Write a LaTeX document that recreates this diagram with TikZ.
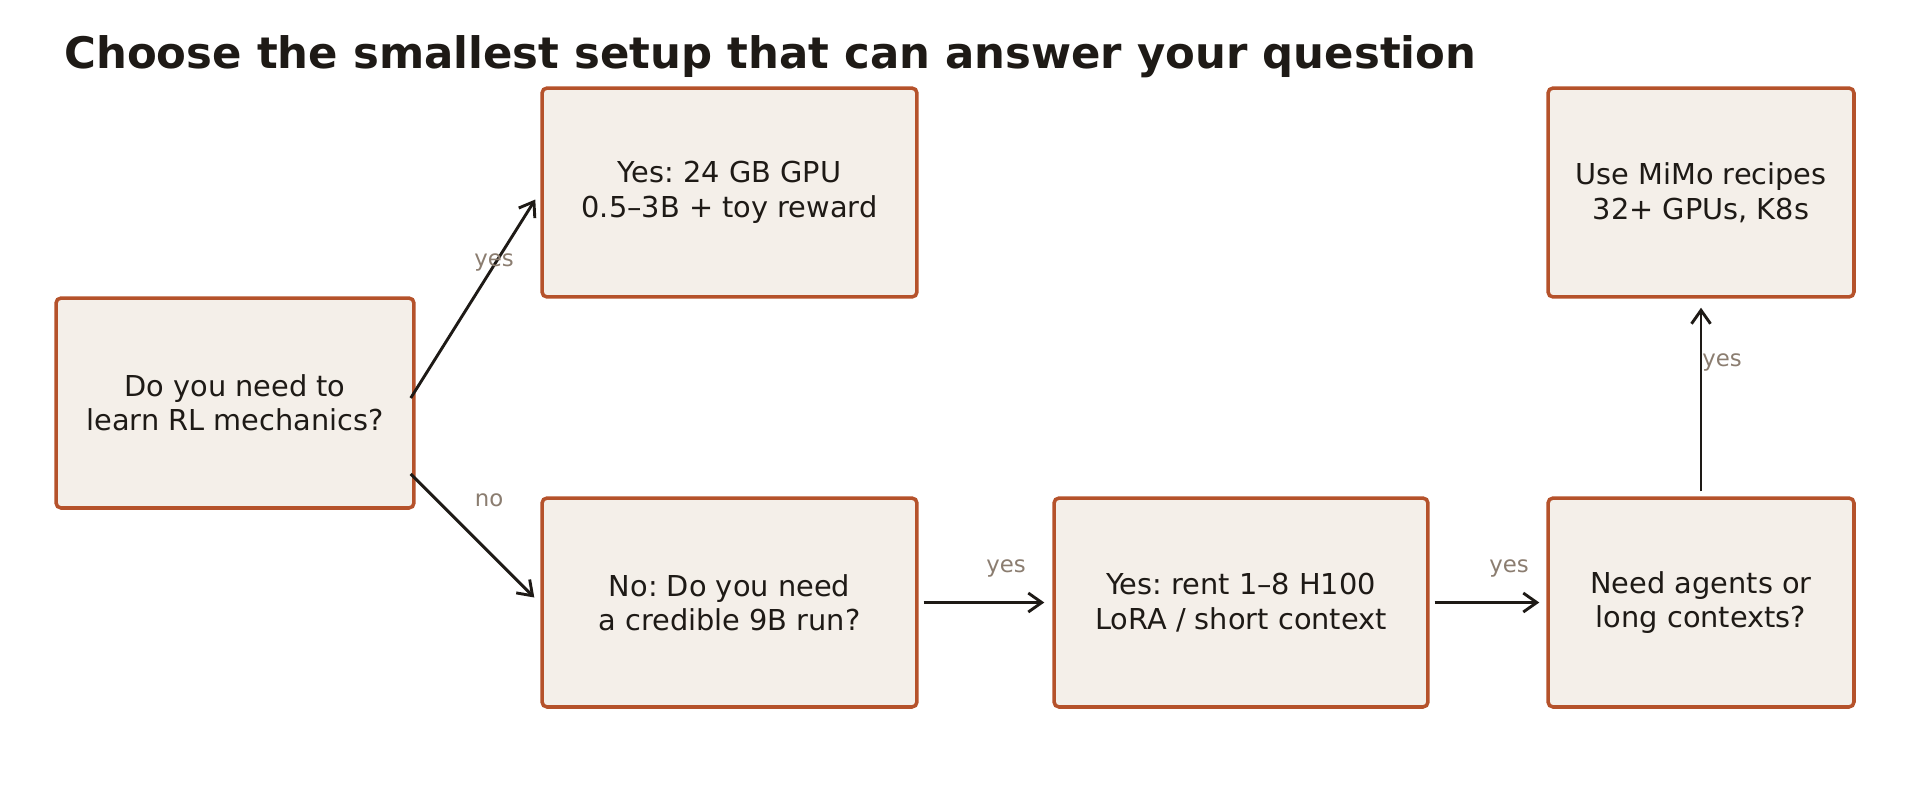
\documentclass[tikz,border=0pt]{standalone}
\usepackage{fontspec}
\setmainfont{DejaVu Sans}
\usetikzlibrary{arrows.meta}
\definecolor{boxfill}{HTML}{F4EFE9}
\definecolor{boxedge}{HTML}{B5522B}
\definecolor{ink}{HTML}{1E1A16}
\definecolor{labgrey}{HTML}{8B7D70}
\frenchspacing

\begin{document}
\begin{tikzpicture}[x=0.02cm,y=-0.02cm,
  choice/.style={draw=boxedge, fill=boxfill, line width=2pt, rounded corners=0.1cm,
    inner sep=0pt, align=center, text=ink, font=\fontsize{16.4}{19.6}\selectfont},
  flow/.style={draw=ink, line width=1.65pt, -{Straight Barb[length=0.27cm,width=0.38cm]}},
  ans/.style={text=labgrey, font=\fontsize{13}{15}\selectfont, inner sep=0pt}]
\useasboundingbox (0,0) rectangle (1919,806);

% title
\node[anchor=base west, inner sep=0pt, text=ink, font=\bfseries\fontsize{24.7}{29}\selectfont]
  (title) at (64,68.5) {Choose the smallest setup that can answer your question};

% question and answer boxes
\node[choice, minimum width=7.16cm, minimum height=4.2cm] (q1) at (235,403)
  {Do you need to\\learn RL mechanics?};
\node[choice, minimum width=7.5cm, minimum height=4.18cm] (small) at (729.5,192.5)
  {Yes: 24 GB GPU\\0.5--3B + toy reward};
\node[choice, minimum width=7.5cm, minimum height=4.18cm] (q2) at (729.5,602.5)
  {No: Do you need\\a credible 9B run?};
\node[choice, minimum width=7.48cm, minimum height=4.18cm] (rent) at (1241,602.5)
  {Yes: rent 1--8 H100\\LoRA / short context};
\node[choice, minimum width=6.12cm, minimum height=4.18cm] (q3) at (1701,602.5)
  {Need agents or\\long contexts?};
\node[choice, minimum width=6.12cm, minimum height=4.18cm] (mimo) at (1701,192.5)
  {Use MiMo recipes\\32+ GPUs, K8s};

% connectors
\draw[flow] ([shift={(-5,-5)}]q1.east) -- ([shift={(-5,7)}]small.west);
\draw[flow] ([shift={(-5,71)}]q1.east) -- ([shift={(-6,-5)}]q2.west);
\draw[flow] ([shift={(5,0)}]q2.east) -- ([shift={(-8,0)}]rent.west);
\draw[flow] ([shift={(5,0)}]rent.east) -- ([shift={(-7,0)}]q3.west);
\draw[flow] ([shift={(0,-5)}]q3.north) -- ([shift={(0,9)}]mimo.south);

% answer labels
\node[ans] (l1) at (494,262) {yes};
\node[ans] (l2) at (489,500) {no};
\node[ans] (l3) at (1006,568) {yes};
\node[ans] (l4) at (1509,568) {yes};
\node[ans] (l5) at (1722,362) {yes};
\end{tikzpicture}
\end{document}
